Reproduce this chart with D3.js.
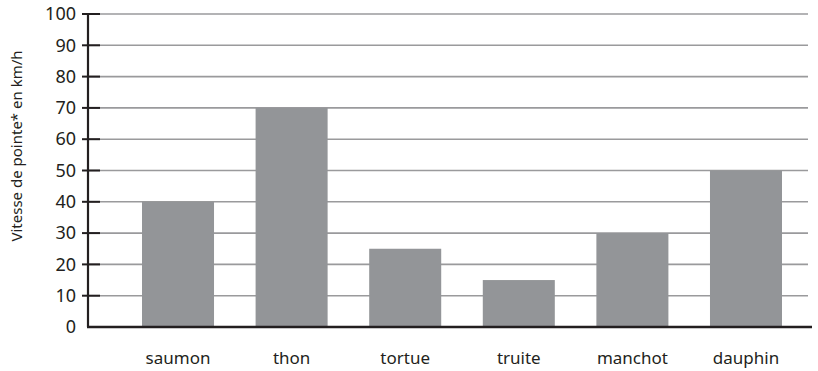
<!DOCTYPE html>
<html>
<head>
<meta charset="utf-8">
<script src="https://cdn.jsdelivr.net/npm/d3@7"></script>
<style>
  body { margin: 0; background: #fff; }
  text { font-family: "Noto Sans", "Open Sans", sans-serif; fill: #231f20; }
</style>
</head>
<body>
<script>
'use strict';

// chart data
let animals = ["saumon", "thon", "tortue", "truite", "manchot", "dauphin"];
let speeds = [40, 70, 25, 15, 30, 50];
let yTicks = [0, 10, 20, 30, 40, 50, 60, 70, 80, 90, 100];
let yTitle = "Vitesse de pointe* en km/h";

const width = 818, height = 371;

let svg = d3.select("body").append("svg")
    .attr("width", width)
    .attr("height", height);

// scales
let xScale = d3.scaleBand()
    .domain(animals)
    .range([142, 782])
    .paddingInner(0.366)
    .paddingOuter(0);

let yScale = d3.scaleLinear()
    .domain([0, 100])
    .range([327, 14]);

// gridlines
svg.append("g")
    .selectAll("line")
    .data(yTicks.filter(d => d > 0))
    .enter()
    .append("line")
        .attr("x1", 88)
        .attr("x2", 808)
        .attr("y1", d => yScale(d))
        .attr("y2", d => yScale(d))
        .attr("stroke", "#9a9a9c")
        .attr("stroke-width", 1.6);

// bars
svg.append("g")
    .selectAll("rect")
    .data(animals)
    .enter()
    .append("rect")
        .attr("x", d => xScale(d))
        .attr("width", xScale.bandwidth())
        .attr("y", (d, i) => yScale(speeds[i]))
        .attr("height", (d, i) => yScale(0) - yScale(speeds[i]))
        .attr("fill", "#939598");

// y axis
let yAxis = d3.axisLeft(yScale)
    .tickValues(yTicks)
    .tickSize(0)
    .tickPadding(12);
let yG = svg.append("g")
    .attr("transform", "translate(88,0)")
    .call(yAxis);
yG.select(".domain").remove();
yG.selectAll("text")
    .attr("font-size", "18px")
    .attr("fill", "#231f20");

// tick marks crossing the axis
svg.append("g")
    .selectAll("line")
    .data(yTicks.filter(d => d > 0))
    .enter()
    .append("line")
        .attr("x1", 82)
        .attr("x2", 100)
        .attr("y1", d => yScale(d))
        .attr("y2", d => yScale(d))
        .attr("stroke", "#231f20")
        .attr("stroke-width", 2);

// axis lines
svg.append("line")
    .attr("x1", 88).attr("x2", 88)
    .attr("y1", yScale(100) - 1).attr("y2", yScale(0))
    .attr("stroke", "#231f20")
    .attr("stroke-width", 2.2);
svg.append("line")
    .attr("x1", 87).attr("x2", 812)
    .attr("y1", yScale(0)).attr("y2", yScale(0))
    .attr("stroke", "#231f20")
    .attr("stroke-width", 2.4);

// x labels
svg.append("g")
    .selectAll("text")
    .data(animals)
    .enter()
    .append("text")
        .attr("x", d => xScale(d) + xScale.bandwidth() / 2)
        .attr("y", 364)
        .attr("text-anchor", "middle")
        .attr("font-size", "17px")
        .text(d => d);

// y title
svg.append("text")
    .attr("transform", "translate(22,146) rotate(-90)")
    .attr("text-anchor", "middle")
    .attr("font-size", "15px")
    .text(yTitle);
</script>
</body>
</html>
